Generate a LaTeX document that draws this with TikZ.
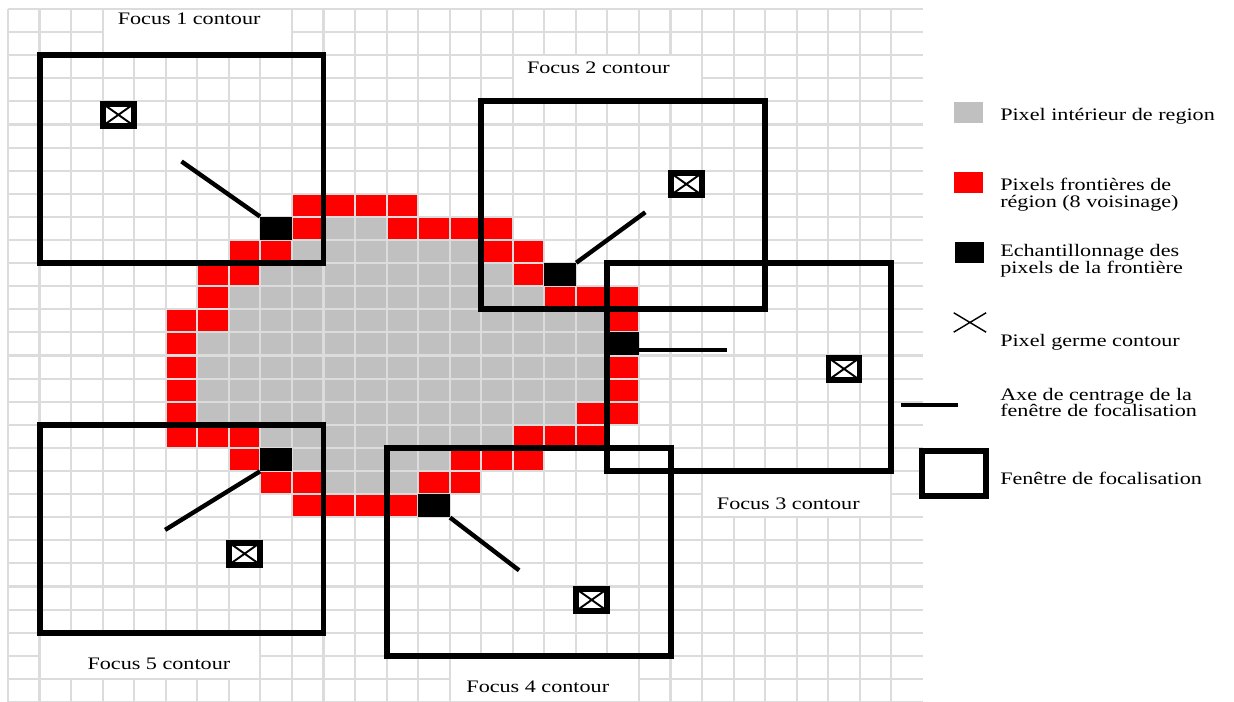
\documentclass[tikz,border=0pt]{standalone}
\usepackage{fontspec}
\setmainfont{Liberation Serif}[FakeStretch=1.26]
\usepackage{tikz}
\usetikzlibrary{shapes.misc}
\definecolor{gridgray}{RGB}{220,220,220}
\definecolor{pixgray}{RGB}{192,192,192}
\definecolor{pixred}{RGB}{255,0,0}

\begin{document}
\begin{tikzpicture}[
    x=0.631cm, y=-0.462cm,
    gridline/.style={draw=gridgray,line width=1.2pt},
    window/.style={draw,line width=3.4pt},
    axis/.style={line width=2.5pt},
    sample/.style={fill=black,inner sep=0pt,minimum width=0.631cm,minimum height=0.462cm},
    seed/.style={draw,line width=3.2pt,fill=white,inner sep=0pt,minimum width=0.62cm,minimum height=0.44cm,
      path picture={\draw[line width=1.1pt] (path picture bounding box.north west) -- (path picture bounding box.south east)
        (path picture bounding box.south west) -- (path picture bounding box.north east);}},
    lbl/.style={font=\fontsize{10}{9.5}\selectfont,inner sep=0pt,anchor=base west},
    key/.style={inner sep=0pt,minimum width=0.58cm,minimum height=0.42cm}
  ]
    \useasboundingbox (-0.2536,-0.3896) rectangle (38.86,30.0);

    % region: interior and border pixels
    \foreach \r/\a/\b in {9/10/11,10/9/14,11/8/15,12/7/16,13/7/18,14/6/18,15/6/18,16/6/18,
        17/6/17,18/8/15,19/9/13,20/10/12}
      \fill[pixgray] (\a,\r) rectangle (\b+1,\r+1);
    \foreach \r/\a/\b in {8/9/12,9/9/9,9/12/15,10/7/8,10/15/16,11/6/7,11/16/16,12/6/6,12/17/19,
        13/5/6,13/19/19,14/5/5,15/5/5,15/19/19,16/5/5,16/19/19,17/5/5,17/18/19,18/5/7,18/16/18,
        19/7/7,19/14/16,20/8/9,20/13/14,21/9/12}
      \fill[pixred] (\a,\r) rectangle (\b+1,\r+1);

    \foreach \i in {0,...,28}
      \draw[gridline] (\i,0) -- (\i,30);
    \foreach \j in {0,...,30}
      \draw[gridline] (0,\j) -- (29,\j);

    \foreach \a/\b/\c/\d in {3/0/9/2,16/2/22/4,22/20/28/22,14/28/20/30,1/27/8/29}
      \fill[white] (\a+0.035,\b+0.05) rectangle (\c-0.035,\d-0.05);

    % sampled border pixels
    \node[sample] (pix1) at (8.5,9.5) {};
    \node[sample] (pix2) at (17.5,11.5) {};
    \node[sample] (pix3) at (19.5,14.5) {};
    \node[sample] (pix4) at (13.5,21.5) {};
    \node[sample] (pix5) at (8.5,19.5) {};

    % focus windows
    \draw[window] (1,2) rectangle (10,11);
    \draw[window] (15,4) rectangle (24,13);
    \draw[window] (19,11) rectangle (28,20);
    \draw[window] (12,19) rectangle (21,28);
    \draw[window] (1,18) rectangle (10,27);

    \coordinate (ctr1) at (5.5,6.6);
    \coordinate (ctr2) at (20.2,8.8);
    \coordinate (ctr3) at (22.8,14.76);
    \coordinate (ctr4) at (16.2,24.3);
    \coordinate (ctr5) at (4.98,22.55);
    \draw[axis] (pix1.north west) -- (ctr1);
    \draw[axis] (pix2.north east) -- (ctr2);
    \draw[axis] (pix3.east |- ctr3) -- (ctr3);
    \draw[axis] (pix4.south east) -- (ctr4);
    \draw[axis] (pix5.south west) -- (ctr5);

    \node[seed] (germ1) at (3.5,4.58) {};
    \node[seed] (germ2) at (21.5,7.58) {};
    \node[seed] (germ3) at (26.5,15.58) {};
    \node[seed] (germ4) at (18.5,25.58) {};
    \node[seed] (germ5) at (7.5,23.58) {};

    \node[lbl] (foc1) at (3.47,0.67) {Focus 1 contour};
    \node[lbl] (foc2) at (16.44,2.78) {Focus 2 contour};
    \node[lbl] (foc3) at (22.46,21.65) {Focus 3 contour};
    \node[lbl] (foc4) at (14.52,29.6) {Focus 4 contour};
    \node[lbl] (foc5) at (2.51,28.61) {Focus 5 contour};

    % legend
    \node[key,fill=pixgray] (kgray) at (30.46,4.48) {};
    \node[lbl] (tgray) at (31.44,4.81) {Pixel intérieur de region};
    \node[key,fill=pixred] (kred) at (30.44,7.49) {};
    \node[lbl,anchor=west,align=left] (tred) at (31.44,8.04) {Pixels frontières de\\région (8 voisinage)};
    \node[key,fill=black] (kblack) at (30.48,10.54) {};
    \node[lbl,anchor=west,align=left] (tblack) at (31.44,10.89) {Echantillonnage des\\pixels de la frontière};
    \node[cross out,draw,line width=0.8pt,inner sep=0pt,minimum width=0.62cm,minimum height=0.36cm] (kgerm) at (30.49,13.57) {};
    \node[lbl] (tgerm) at (31.44,14.62) {Pixel germe contour};
    \coordinate (kax1) at (28.3,17.14);
    \coordinate (kax2) at (30.1,17.14);
    \draw[axis] (kax1) -- (kax2);
    \node[lbl,anchor=west,align=left] (tax) at (31.44,17.04) {Axe de centrage de la\\fenêtre de focalisation};
    \node[draw,line width=3.4pt,inner sep=0pt,minimum width=1.28cm,minimum height=0.9cm] (kwin) at (29.985,20.1) {};
    \node[lbl] (twin) at (31.44,20.6) {Fenêtre de focalisation};
\end{tikzpicture}
\end{document}
